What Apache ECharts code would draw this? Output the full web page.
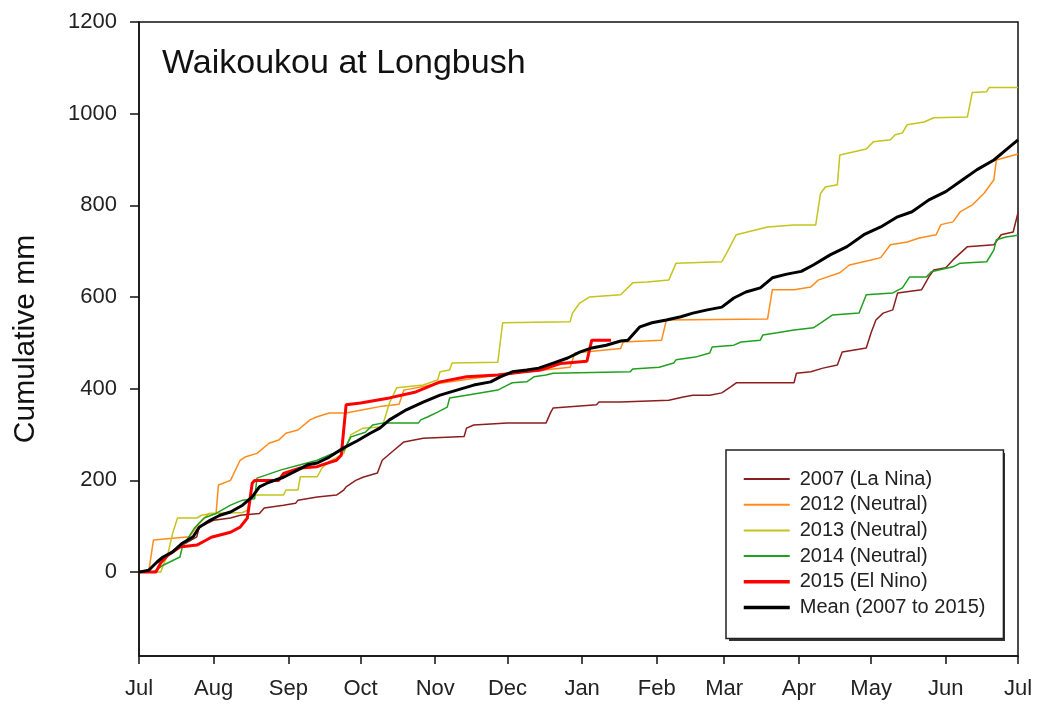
<!DOCTYPE html>
<html>
<head>
<meta charset="utf-8">
<title>Waikoukou at Longbush</title>
<script src="https://cdn.jsdelivr.net/npm/echarts@6/dist/echarts.min.js"></script>
<style>
html, body { margin: 0; padding: 0; background: #fff; }
#myChart { width: 1038px; height: 706px; }
</style>
</head>
<body>
<div id="myChart"></div>
<script>
// x = days since 1 July, y = cumulative rainfall (mm)
var monthDays = [0, 31, 62, 92, 123, 153, 184, 215, 243, 274, 304, 335, 365]
var monthLabels = ['Jul', 'Aug', 'Sep', 'Oct', 'Nov', 'Dec', 'Jan', 'Feb', 'Mar', 'Apr', 'May', 'Jun', 'Jul']
var yTicks = [0, 200, 400, 600, 800, 1000, 1200]

var seriesNames = ['2007 (La Nina)', '2012 (Neutral)', '2013 (Neutral)', '2014 (Neutral)', '2015 (El Nino)', 'Mean (2007 to 2015)']

var d2007 = [[0,0],[4,0],[6,15],[10,30],[15,50],[20,65],[24,77],[25,98],[31,113],[38,118],[42,124],[50,128],[52,140],[60,146],[65,150],[66,157],[74,164],[82,168],[85,179],[86,186],[90,200],[93,207],[99,216],[101,244],[105,262],[110,284],[118,292],[135,296],[136,314],[139,321],[153,325],[169,325],[171,349],[172,358],[190,365],[191,371],[200,371],[220,375],[226,382],[230,386],[237,386],[242,391],[246,405],[248,413],[272,413],[273,434],[279,437],[284,445],[290,452],[292,480],[302,489],[304,522],[306,550],[309,565],[313,572],[315,609],[325,616],[328,644],[330,659],[335,664],[338,681],[344,710],[355,714],[358,736],[363,742],[365,784]]

var d2012 = [[0,0],[4,0],[6,70],[21,77],[24,100],[29,128],[32,128],[33,190],[38,200],[42,244],[44,251],[49,259],[54,281],[58,288],[61,303],[66,310],[71,332],[74,339],[79,347],[86,347],[93,354],[100,361],[108,366],[110,397],[125,412],[149,430],[166,440],[179,447],[181,478],[200,488],[201,502],[217,506],[219,550],[261,552],[263,616],[272,616],[279,622],[282,637],[291,653],[295,670],[304,681],[308,686],[312,714],[319,720],[324,729],[331,736],[333,758],[338,764],[341,786],[346,801],[351,827],[355,856],[356,899],[365,912]]

var d2013 = [[0,0],[9,0],[12,40],[14,85],[16,118],[24,118],[26,124],[30,128],[43,130],[45,135],[47,168],[60,168],[61,179],[66,179],[67,208],[74,208],[76,227],[79,241],[85,259],[88,300],[93,314],[101,317],[104,369],[107,402],[118,408],[124,419],[125,437],[129,441],[130,456],[149,458],[151,544],[179,546],[180,565],[183,587],[187,600],[200,605],[205,631],[211,633],[220,637],[223,674],[242,677],[244,696],[248,736],[261,753],[272,757],[281,757],[283,826],[285,840],[290,845],[291,910],[302,923],[305,939],[312,943],[314,954],[317,958],[319,976],[326,982],[330,991],[344,993],[346,1046],[352,1048],[353,1057],[365,1057]]

var d2014 = [[0,0],[6,0],[10,15],[17,33],[18,55],[23,96],[27,118],[32,128],[38,146],[43,157],[48,160],[49,205],[59,223],[67,234],[74,244],[82,262],[85,265],[88,295],[94,305],[97,321],[101,325],[116,325],[117,332],[120,339],[124,349],[128,360],[129,380],[136,386],[149,397],[153,408],[155,413],[161,415],[164,426],[169,430],[172,434],[204,437],[205,443],[216,447],[222,456],[223,463],[231,469],[237,478],[238,491],[247,495],[250,502],[258,506],[259,517],[265,522],[272,528],[280,533],[283,543],[288,561],[299,565],[302,605],[313,609],[317,620],[320,644],[327,644],[329,655],[338,666],[341,674],[352,677],[355,703],[356,725],[360,731],[365,735]]

var d2015 = [[0,0],[7,0],[9,20],[12,37],[17,55],[24,59],[28,70],[30,76],[38,87],[42,98],[45,118],[47,194],[48,200],[58,200],[60,215],[67,227],[74,230],[76,234],[82,244],[84,255],[86,365],[92,369],[104,380],[115,393],[125,415],[136,426],[149,430],[160,437],[167,441],[175,455],[186,460],[188,506],[196,506]]

var dMean = [[0,0],[4,4],[7.5,22],[10,33],[14,44],[18,63],[22.5,77],[25,98],[29.5,113],[33.6,124],[38,131],[43,146],[47,164],[50,186],[54,196],[60,207],[66,223],[70,234],[74,238],[79,251],[85,271],[90.5,286],[96,303],[100,314],[104,332],[111,354],[118,371],[125,386],[132,397],[139,408],[146,415],[150,426],[155,437],[161,441],[166,445],[172,456],[178,467],[183,480],[188,489],[194,495],[200,504],[203,506],[208,535],[213,544],[219,550],[225,557],[230,565],[236,572],[242,578],[247,598],[252,611],[258,620],[263,642],[269,650],[275,656],[280,670],[287,692],[294,710],[301,736],[308,753],[315,775],[321,786],[328,812],[335,830],[342,856],[348,878],[355,899],[360,921],[365,943]]

var seriesData = [d2007, d2012, d2013, d2014, d2015, dMean]
var seriesColors = ['#8b1f1f', '#ff8c1a', '#c4c41c', '#20a020', '#ff0000', '#000000']
var seriesWidths = [1.5, 1.5, 1.5, 1.5, 3, 3]

var myChart = echarts.init(document.getElementById('myChart'), null, { renderer: 'canvas' })

var series = []
var legendItems = []
for (var i = 0; i < seriesNames.length; i++) {
  series.push({
    name: seriesNames[i],
    type: 'line',
    data: seriesData[i],
    showSymbol: false,
    symbol: 'none',
    animation: false,
    lineStyle: { color: seriesColors[i], width: seriesWidths[i] },
    itemStyle: { color: seriesColors[i] }
  })
  legendItems.push({
    name: seriesNames[i],
    lineStyle: { color: seriesColors[i], width: seriesWidths[i] + 0.5 }
  })
}

myChart.setOption({
  animation: false,
  textStyle: { fontFamily: 'Liberation Sans, Arial, sans-serif' },
  title: {
    text: 'Waikoukou at Longbush',
    left: 157,
    top: 42,
    textStyle: { fontSize: 34, fontWeight: 'normal', color: '#111' }
  },
  // legend drop shadow (plain dark box behind the legend)
  graphic: [{
    type: 'rect',
    z: 0,
    shape: { x: 729, y: 453, width: 276, height: 188 },
    style: { fill: '#333' }
  }],
  legend: {
    orient: 'vertical',
    left: 726,
    top: 450,
    z: 5,
    padding: [19, 18, 21, 16],
    itemWidth: 46,
    itemHeight: 12,
    itemGap: 5.7,
    backgroundColor: '#fff',
    borderColor: '#222',
    borderWidth: 1.5,
    data: legendItems,
    itemStyle: { opacity: 0 },
    textStyle: { fontSize: 20, color: '#222', lineHeight: 20, padding: [0, 0, 0, 5] }
  },
  grid: {
    left: 139,
    right: 20,
    top: 22,
    bottom: 50,
    show: true,
    borderColor: '#111',
    borderWidth: 1.5
  },
  xAxis: {
    type: 'value',
    min: 0,
    max: 365,
    splitLine: { show: false },
    axisLine: { show: true, onZero: false, lineStyle: { color: '#111', width: 1.5 } },
    axisTick: { show: true, customValues: monthDays, length: 8, lineStyle: { color: '#111', width: 1.5 } },
    axisLabel: {
      customValues: monthDays,
      margin: 22,
      fontSize: 22,
      color: '#222',
      formatter: function (v) { return monthLabels[monthDays.indexOf(v)] }
    }
  },
  yAxis: {
    type: 'value',
    min: -183,
    max: 1200,
    name: 'Cumulative mm',
    nameLocation: 'middle',
    nameGap: 98,
    nameTextStyle: { fontSize: 30, color: '#111' },
    splitLine: { show: false },
    axisLine: { show: true, onZero: false, lineStyle: { color: '#111', width: 1.5 } },
    axisTick: { show: true, customValues: yTicks, length: 9, lineStyle: { color: '#111', width: 1.5 } },
    axisLabel: {
      customValues: yTicks,
      margin: 22,
      fontSize: 22,
      color: '#222',
      formatter: function (v) { return String(v) }
    }
  },
  series: series
})
</script>
</body>
</html>
